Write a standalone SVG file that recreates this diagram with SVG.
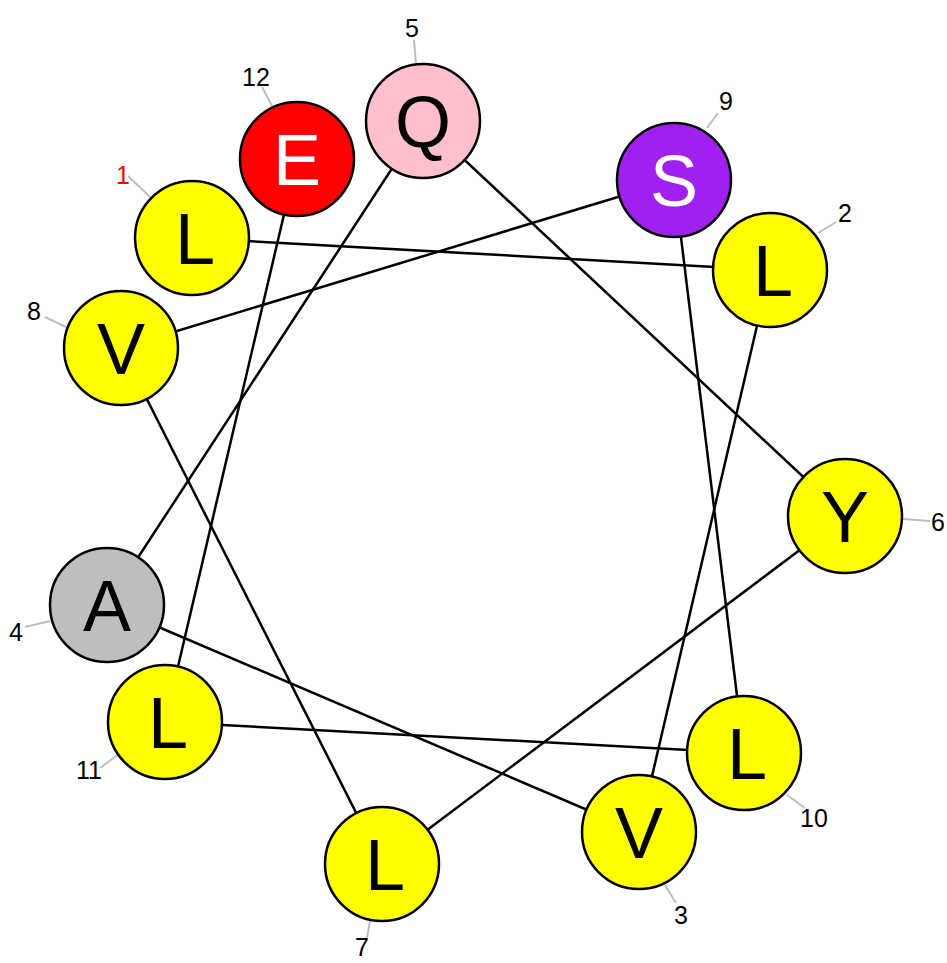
<svg xmlns="http://www.w3.org/2000/svg" width="947" height="963" viewBox="0 0 947 963">
<style>
.c{stroke:#000;stroke-width:2.5}
.y{fill:#ffff00}.r{fill:#ff0000}.p{fill:#ffc0cb}.v{fill:#a020f0}.g{fill:#bebebe}
.aa{font-family:"Liberation Sans",Arial,sans-serif;font-size:72px;text-anchor:middle;fill:#000}
.w{fill:#fff}
.n{font-family:"Liberation Sans",Arial,sans-serif;font-size:25px;text-anchor:middle;fill:#000}
.ld{stroke:#bebebe;stroke-width:2}
.e{stroke:#000;stroke-width:2.5;fill:none}
</style>
<rect width="947" height="963" fill="#fff"/>
<g id="connectors" class="e">
<line x1="192" y1="238" x2="770" y2="270"/>
<line x1="770" y1="270" x2="639" y2="832"/>
<line x1="639" y1="832" x2="107" y2="605"/>
<line x1="107" y1="605" x2="423" y2="121"/>
<line x1="423" y1="121" x2="845" y2="516"/>
<line x1="845" y1="516" x2="382" y2="864"/>
<line x1="382" y1="864" x2="121" y2="348"/>
<line x1="121" y1="348" x2="674" y2="180"/>
<line x1="674" y1="180" x2="744" y2="753"/>
<line x1="744" y1="753" x2="165" y2="722"/>
<line x1="165" y1="722" x2="297" y2="159"/>
</g>
<g id="leaders">
<line class="ld" x1="128" y1="176" x2="150" y2="197"/>
<line class="ld" x1="262" y1="87" x2="272" y2="106"/>
<line class="ld" x1="414" y1="40" x2="416" y2="64"/>
<line class="ld" x1="718" y1="113" x2="707" y2="128"/>
<line class="ld" x1="836" y1="222" x2="818" y2="233"/>
<line class="ld" x1="903" y1="519" x2="930" y2="521"/>
<line class="ld" x1="45" y1="317" x2="66" y2="327"/>
<line class="ld" x1="25" y1="627" x2="50" y2="621"/>
<line class="ld" x1="100" y1="768" x2="120" y2="753"/>
<line class="ld" x1="367" y1="938" x2="370" y2="921"/>
<line class="ld" x1="676" y1="903" x2="665" y2="885"/>
<line class="ld" x1="787" y1="795" x2="805" y2="808"/>
</g>
<g id="r1"><circle class="c y" cx="192" cy="238" r="57"/><text class="aa" x="195" y="264">L</text><text class="n" x="123" y="184" style="fill:#ff0000">1</text></g>
<g id="r2"><circle class="c y" cx="770" cy="270" r="57"/><text class="aa" x="773" y="296">L</text><text class="n" x="845" y="222">2</text></g>
<g id="r3"><circle class="c y" cx="639" cy="832" r="57"/><text class="aa" x="639" y="858">V</text><text class="n" x="681" y="924">3</text></g>
<g id="r4"><circle class="c g" cx="107" cy="605" r="57"/><text class="aa" x="107" y="631">A</text><text class="n" x="16" y="641">4</text></g>
<g id="r5"><circle class="c p" cx="423" cy="121" r="57"/><text class="aa" x="423" y="147">Q</text><text class="n" x="412" y="37">5</text></g>
<g id="r6"><circle class="c y" cx="845" cy="516" r="57"/><text class="aa" x="845" y="542">Y</text><text class="n" x="938" y="531">6</text></g>
<g id="r7"><circle class="c y" cx="382" cy="864" r="57"/><text class="aa" x="385" y="890">L</text><text class="n" x="362" y="956">7</text></g>
<g id="r8"><circle class="c y" cx="121" cy="348" r="57"/><text class="aa" x="121" y="374">V</text><text class="n" x="34" y="320">8</text></g>
<g id="r9"><circle class="c v" cx="674" cy="180" r="57"/><text class="aa w" x="674" y="206">S</text><text class="n" x="726" y="110">9</text></g>
<g id="r10"><circle class="c y" cx="744" cy="753" r="57"/><text class="aa" x="747" y="779">L</text><text class="n" x="814" y="827">10</text></g>
<g id="r11"><circle class="c y" cx="165" cy="722" r="57"/><text class="aa" x="168" y="748">L</text><text class="n" x="89" y="779">11</text></g>
<g id="r12"><circle class="c r" cx="297" cy="159" r="57"/><text class="aa w" x="297" y="185">E</text><text class="n" x="256" y="86">12</text></g>
</svg>
